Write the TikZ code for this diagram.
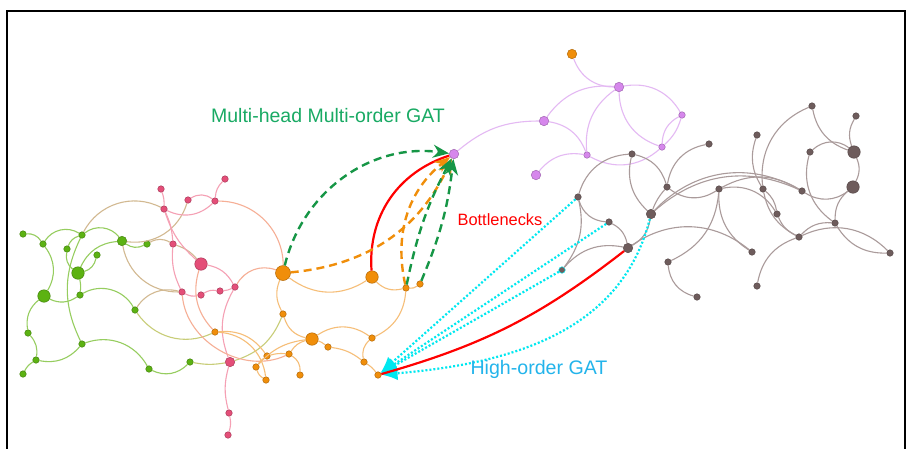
\documentclass[tikz,border=0pt]{standalone}
\usepackage{fontspec}
\setmainfont{Liberation Sans}
\usetikzlibrary{arrows.meta}
\definecolor{grn}{RGB}{92,178,18}
\definecolor{grnl}{RGB}{150,205,95}
\definecolor{pnk}{RGB}{228,78,120}
\definecolor{pnkl}{RGB}{245,160,180}
\definecolor{org}{RGB}{240,142,10}
\definecolor{orgl}{RGB}{246,190,120}
\definecolor{slm}{RGB}{246,175,150}
\definecolor{tanl}{RGB}{210,185,145}
\definecolor{ylg}{RGB}{200,205,120}
\definecolor{vio}{RGB}{214,135,236}
\definecolor{viol}{RGB}{228,185,243}
\definecolor{brn}{RGB}{110,92,92}
\definecolor{brnl}{RGB}{170,155,155}
\definecolor{dgrn}{RGB}{22,150,70}
\definecolor{txtgrn}{RGB}{25,170,100}
\definecolor{cyn}{RGB}{0,232,240}
\definecolor{txtcyn}{RGB}{35,180,235}

\begin{document}
\begin{tikzpicture}[x=1pt,y=-1pt,
  v/.style={circle,inner sep=0pt,minimum size=6.5pt,line width=0.5pt},
  mid/.style={minimum size=9.5pt},
  big/.style={minimum size=12.5pt},
  gv/.style={v,fill=grn,draw=grn!75!black},
  pv/.style={v,fill=pnk,draw=pnk!75!black},
  ov/.style={v,fill=org,draw=org!75!black},
  uv/.style={v,fill=vio,draw=vio!75!black},
  bv/.style={v,fill=brn,draw=brn!80!black},
  e/.style={line width=1.1pt},
  multi/.style={line width=2.4pt,dash pattern=on 8pt off 5pt,-{Stealth[length=16pt,width=13pt]}},
  neck/.style={line width=2.2pt,red},
  high/.style={line width=2.2pt,cyn,dash pattern=on 2pt off 2pt,-{Latex[length=16pt,width=14pt]}},
  lbl/.style={anchor=base,inner sep=0pt}]
\useasboundingbox (0,0) rectangle (908,448);
\fill[white] (0,0) rectangle (908,448);
\clip (0,0) rectangle (908,448);
\draw[line width=2.5pt] (7,11) rectangle (905,470);

\node[gv] (g1) at (23,234) {};
\node[gv] (g2) at (43,244) {};
\node[gv] (g3) at (82,235) {};
\node[gv] (g4) at (67,249) {};
\node[gv] (g5) at (97,255) {};
\node[gv,mid] (g6) at (122,241) {};
\node[gv] (g7) at (147,244) {};
\node[gv,big] (g8) at (78,273) {};
\node[gv,big] (g9) at (44,296) {};
\node[gv] (g10) at (80,295) {};
\node[gv] (g11) at (135,310) {};
\node[gv] (g12) at (28,333) {};
\node[gv] (g13) at (36,360) {};
\node[gv] (g14) at (23,374) {};
\node[gv] (g15) at (82,344) {};
\node[gv] (g16) at (149,369) {};
\node[gv] (g17) at (190,362) {};

\node[pv] (p1) at (161,189) {};
\node[pv] (p2) at (225,179) {};
\node[pv] (p3) at (188,200) {};
\node[pv] (p4) at (215,201) {};
\node[pv] (p5) at (164,209) {};
\node[pv] (p6) at (173,244) {};
\node[pv,big] (p7) at (201,264) {};
\node[pv] (p8) at (182,292) {};
\node[pv] (p9) at (201,295) {};
\node[pv] (p10) at (220,291) {};
\node[pv] (p11) at (235,287) {};
\node[pv,mid] (p12) at (230,362) {};
\node[pv] (p13) at (229,413) {};
\node[pv] (p14) at (228,435) {};

\node[ov,minimum size=15pt] (o1) at (283,273) {};
\node[ov] (o2) at (283,314) {};
\node[ov] (o3) at (215,332) {};
\node[ov] (o4) at (267,356) {};
\node[ov] (o5) at (289,354) {};
\node[ov] (o6) at (256,367) {};
\node[ov] (o7) at (266,380) {};
\node[ov,big] (o8) at (372,277) {};
\node[ov] (o9) at (406,288) {};
\node[ov] (o10) at (420,284) {};
\node[ov,big] (o12) at (312,339) {};
\node[ov] (o13) at (328,347) {};
\node[ov] (o14) at (372,338) {};
\node[ov] (o15) at (364,362) {};
\node[ov] (o16) at (378,375) {};
\node[ov] (o21) at (300,375) {};
\node[ov,mid] (o0) at (572,54) {};

\node[uv,mid] (u0) at (454,154) {};
\node[uv,mid] (u1) at (619,87) {};
\node[uv,mid] (u2) at (544,121) {};
\node[uv] (u3) at (682,115) {};
\node[uv] (u4) at (662,147) {};
\node[uv] (u5) at (587,155) {};
\node[uv,mid] (u6) at (536,175) {};

\node[bv] (b1) at (632,154) {};
\node[bv] (b2) at (578,197) {};
\node[bv] (b3) at (609,222) {};
\node[bv,mid] (b4) at (651,214) {};
\node[bv,mid] (b5) at (628,248) {};
\node[bv,draw=cyn] (b6) at (562,270) {};
\node[bv] (b7) at (667,187) {};
\node[bv] (b8) at (709,144) {};
\node[bv] (b9) at (719,189) {};
\node[bv] (b10) at (668,262) {};
\node[bv] (b11) at (697,297) {};
\node[bv] (b12) at (752,252) {};
\node[bv] (b13) at (757,135) {};
\node[bv] (b14) at (763,189) {};
\node[bv] (b15) at (777,214) {};
\node[bv] (b16) at (812,106) {};
\node[bv] (b17) at (856,116) {};
\node[bv] (b18) at (810,152) {};
\node[bv,big] (b19) at (854,152) {};
\node[bv] (b20) at (802,191) {};
\node[bv,big] (b21) at (853,187) {};
\node[bv] (b22) at (835,223) {};
\node[bv] (b23) at (799,237) {};
\node[bv] (b24) at (890,253) {};
\node[bv] (b25) at (757,286) {};

\path[e,grnl]
(g1) edge[bend left=30] (g2)
(g2) edge[bend left=45] (g3)
(g3) edge[bend left=45] (g6)
(g2) edge[bend left=34] (g9)
(g4) edge[bend right=30] (g8)
(g3) edge[bend right=25] (g4)
(g8) edge[bend right=30] (g5)
(g8) edge[bend left=30] (g6)
(g6) edge[bend right=30] (g7)
(g3) edge[bend right=26] (g15)
(g8) edge[bend left=10] (g10)
(g9) edge[bend right=30] (g10)
(g10) edge[bend left=45] (g11)
(g9) edge[bend right=30] (g12)
(g12) edge[bend left=25] (g13)
(g13) edge[bend right=15] (g14)
(g13) edge[bend right=30] (g15)
(g15) edge[bend left=40] (g16)
(g16) edge[bend right=35] (g17);
\path[e,ylg]
(g17) edge[bend right=10] (p12)
(p12) edge[bend right=25] (o2)
(g11) edge[bend right=40] (o3);
\path[e,tanl]
(g3) edge[bend left=45] (p5)
(g6) edge[bend right=40] (p3)
(g6) edge[bend right=40] (p8)
(g7) edge[bend left=30] (p6)
(p6) edge[bend left=15] (p7)
(g11) edge[bend left=35] (p8);
\path[e,pnkl]
(p1) edge[bend left=10] (p5)
(p5) edge[bend left=10] (p6)
(p5) edge[bend right=15] (p7)
(p6) edge[bend right=15] (p8)
(p5) edge[bend right=35] (p4)
(p3) edge[bend left=35] (p4)
(p2) edge[bend right=20] (p4)
(p7) edge[bend left=25] (p11)
(p8) edge[bend right=20] (p9)
(p9) edge[bend left=20] (p10)
(p10) edge[bend right=10] (p11)
(p11) edge[bend right=25] (p12)
(p12) edge[bend right=15] (p13)
(p13) edge[bend left=15] (p14);
\path[e,slm]
(p4) edge[bend left=45] (o1)
(p7) edge[bend right=30] (o3)
(p11) edge[bend left=40] (o1)
(p8) edge[bend right=55] (o5);
\path[e,orgl]
(o1) edge[bend right=35] (o8)
(o1) edge[bend right=25] (o2)
(o8) edge[bend right=30] (o9)
(o9) edge[bend right=20] (o10)
(o9) edge[bend left=30] (o14)
(o2) edge[bend right=30] (o12)
(o12) edge[bend left=35] (o14)
(o14) edge[bend right=30] (o15)
(o15) edge[bend left=10] (o16)
(o12) edge[bend left=10] (o13)
(o13) edge[bend left=15] (o15)
(o3) edge[bend left=30] (o4)
(o3) edge[bend left=40] (o7)
(o4) edge[bend left=10] (o5)
(o4) edge[bend right=10] (o6)
(o6) edge[bend right=20] (o7)
(o5) edge[bend left=20] (o12)
(o5) edge[bend left=30] (o21)
(o6) edge[bend left=20] (o12);
\path[e,viol]
(u0) edge[bend left=20] (u2)
(u2) edge[bend left=30] (u1)
(o0) edge[bend right=35] (u1)
(u1) edge[bend left=35] (u3)
(u1) edge[bend right=35] (u4)
(u1) edge[bend right=30] (u5)
(u2) edge[bend left=30] (u5)
(u5) edge[bend right=30] (u6)
(u3) edge[bend right=30] (u4)
(u3) edge[bend left=15] (u4)
(u5) edge[bend right=35] (u4);
\path[e,brnl]
(b1) edge[bend right=35] (b2)
(b1) edge[bend left=30] (b7)
(b1) edge[bend right=30] (b4)
(b2) edge[bend right=35] (b3)
(b2) edge[bend left=25] (b6)
(b3) edge[bend left=25] (b5)
(b6) edge[bend left=30] (b5)
(b5) edge[bend right=25] (b4)
(b4) edge[bend left=10] (b7)
(b4) edge[bend left=38] (b20)
(b4) edge[bend left=33] (b20)
(b5) edge[bend left=37] (b12)
(b7) edge[bend left=35] (b8)
(b7) edge[bend right=35] (b9)
(b9) edge[bend left=30] (b10)
(b9) edge[bend right=30] (b12)
(b9) edge[bend left=35] (b15)
(b9) edge[bend left=30] (b20)
(b10) edge[bend right=35] (b11)
(b13) edge[bend right=25] (b14)
(b16) edge[bend right=37] (b14)
(b14) edge[bend left=20] (b15)
(b14) edge[bend right=25] (b23)
(b15) edge[bend right=20] (b23)
(b16) edge[bend right=30] (b19)
(b17) edge[bend right=25] (b19)
(b18) edge[bend left=40] (b19)
(b18) edge[bend right=35] (b22)
(b19) edge[bend left=25] (b21)
(b21) edge[bend left=35] (b20)
(b21) edge[bend right=25] (b22)
(b22) edge[bend right=25] (b23)
(b22) edge[bend right=30] (b24)
(b23) edge[bend left=35] (b24)
(b23) edge[bend right=30] (b25);

\path[high]
(b2) edge (o16)
(b3) edge (o16)
(b6) edge (o16)
(b4) edge[out=-104,in=5] (o16);
\path[neck]
(o8) edge[bend left=38] (u0)
(o16) edge[bend right=11] (b5);
\path[multi,org]
(o1) edge[bend right=30] (u0)
(o9) edge[bend left=32] (u0);
\path[multi,dgrn]
(o1) edge[bend left=42] (u0)
(o9) edge[bend left=8] (u0)
(o10) edge[bend right=8] (u0);

\node[lbl,txtgrn,font=\fontsize{19.5}{22}\selectfont] (lmulti) at (328,122) {Multi-head Multi-order GAT};
\node[lbl,red,font=\fontsize{16.4}{19}\selectfont] (lneck) at (500,225) {Bottlenecks};
\node[lbl,txtcyn,font=\fontsize{19.6}{22}\selectfont] (lhigh) at (539,374) {High-order GAT};
\end{tikzpicture}
\end{document}
